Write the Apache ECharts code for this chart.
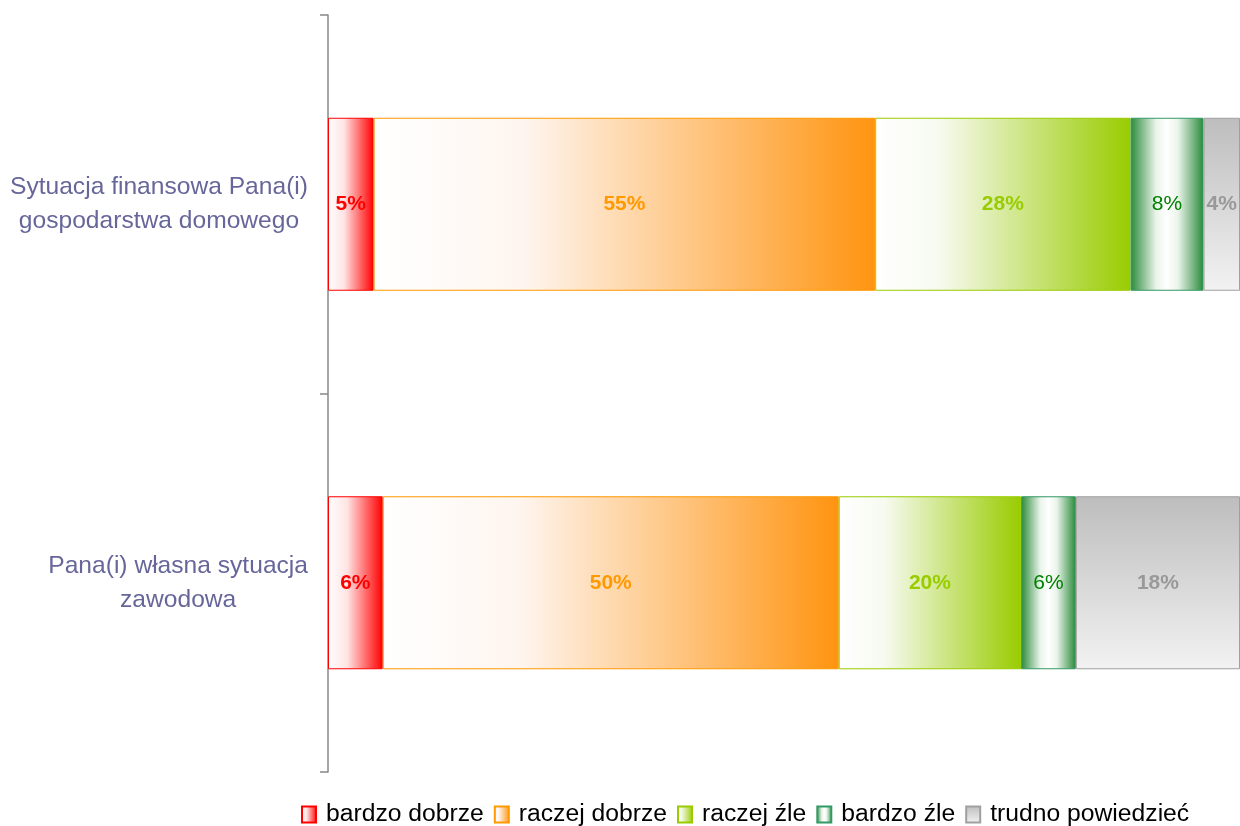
<!DOCTYPE html>
<html>
<head>
<meta charset="utf-8">
<script src="https://cdn.jsdelivr.net/npm/echarts@6/dist/echarts.min.js"></script>
<style>html,body{margin:0;padding:0;background:#fff}#c{width:1240px;height:826px}</style>
</head>
<body>
<div id="c"></div>
<script>
const categories = ['Sytuacja finansowa Pana(i)\ngospodarstwa domowego', 'Pana(i) własna sytuacja\nzawodowa'];
const seriesNames = ['bardzo dobrze', 'raczej dobrze', 'raczej źle', 'bardzo źle', 'trudno powiedzieć'];
const bardzoDobrze = [5, 6];
const raczejDobrze = [55, 50];
const raczejZle = [28, 20];
const bardzoZle = [8, 6];
const trudnoPowiedziec = [4, 18];

const FONT = '"Liberation Sans", Arial, sans-serif';
function hGrad(stops) {
  return new echarts.graphic.LinearGradient(0, 0, 1, 0, stops.map((c) => ({offset: c[0], color: c[1]})));
}
function vGrad(stops) {
  return new echarts.graphic.LinearGradient(0, 0, 0, 1, stops.map((c) => ({offset: c[0], color: c[1]})));
}
const styles = [
  {color: hGrad([[0, '#ffffff'], [0.35, '#ffe4e4'], [1, '#ff0000']]), border: '#ff0000', label: '#ff0000', bold: true},
  {color: hGrad([[0, '#ffffff'], [0.3, '#fef5ef'], [1, '#ff9410']]), border: '#ff9900', label: '#ff9900', bold: true},
  {color: hGrad([[0, '#ffffff'], [0.25, '#f7faf0'], [1, '#99cc00']]), border: '#99cc00', label: '#99cc00', bold: true},
  {color: hGrad([[0, '#2a8a3a'], [0.35, '#eaf4ea'], [0.5, '#ffffff'], [0.65, '#eaf4ea'], [1, '#2a8a3a']]), border: '#339966', label: '#008000', bold: false},
  {color: vGrad([[0, '#bdbdbd'], [1, '#f2f2f2']]), border: '#a0a0a0', label: '#999999', bold: true}
];
const values = [bardzoDobrze, raczejDobrze, raczejZle, bardzoZle, trudnoPowiedziec];

const chart = echarts.init(document.getElementById('c'));
chart.setOption({
  animation: false,
  grid: {left: 328, right: 0, top: 15, bottom: 54},
  xAxis: {type: 'value', min: 0, max: 100, show: false},
  yAxis: {
    type: 'category',
    data: categories,
    inverse: true,
    axisLine: {show: true, lineStyle: {color: '#888888', width: 1.5}},
    axisTick: {show: true, length: 8, lineStyle: {color: '#888888', width: 1.5}},
    axisLabel: {
      margin: 20,
      align: 'right',
      formatter: (v) => v.split('\n').map(s => '{c|' + s + '}').join('\n'),
      rich: {c: {align: 'center', fontSize: 24.6, lineHeight: 34, color: '#66669a', fontFamily: FONT}}
    }
  },
  legend: {
    left: 296,
    top: 797,
    itemWidth: 14,
    itemHeight: 16,
    itemGap: 10,
    icon: 'rect',
    textStyle: {fontSize: 24.7, color: '#000', fontFamily: FONT, padding: [0, 0, 0, 5]},
    data: seriesNames
  },
  series: values.map((vals, i) => ({
    name: seriesNames[i],
    type: 'bar',
    stack: 'total',
    barWidth: 173,
    data: vals,
    itemStyle: {color: styles[i].color, borderColor: styles[i].border, borderWidth: 1},
    label: {
      show: true,
      position: 'inside',
      formatter: '{c}%',
      fontSize: 21,
      fontWeight: styles[i].bold ? 'bold' : 'normal',
      color: styles[i].label,
      fontFamily: FONT
    }
  }))
});
</script>
</body>
</html>
